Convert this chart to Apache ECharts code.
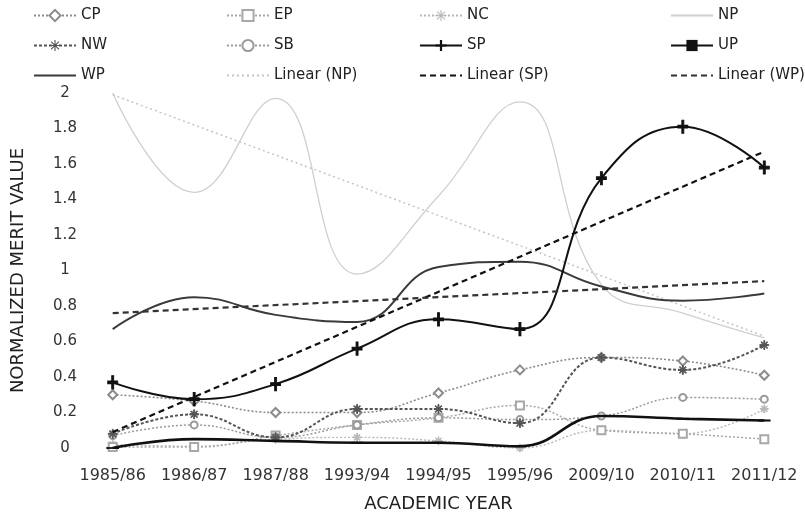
<!DOCTYPE html>
<html>
<head>
<meta charset="utf-8">
<script src="https://cdn.jsdelivr.net/npm/echarts@6/dist/echarts.min.js"></script>
<style>html,body{margin:0;padding:0;background:#fff;}#c{width:805px;height:518px;}</style>
</head>
<body>
<div id="c"></div>
<script>
var categories = ['1985/86','1986/87','1987/88','1993/94','1994/95','1995/96','2009/10','2010/11','2011/12'];
var yTicks = [0, 0.2, 0.4, 0.6, 0.8, 1, 1.2, 1.4, 1.6, 1.8, 2];
var CP = [0.30, 0.265, 0.20, 0.20, 0.31, 0.44, 0.51, 0.49, 0.41];
var EP = [0.005, 0.005, 0.07, 0.13, 0.17, 0.24, 0.10, 0.08, 0.05];
var NC = [0.02, 0.01, 0.05, 0.06, 0.04, 0.0, 0.10, 0.08, 0.22];
var NP = [2.0, 1.44, 1.97, 0.98, 1.42, 1.95, 0.92, 0.76, 0.62];
var NW = [0.08, 0.19, 0.06, 0.22, 0.22, 0.14, 0.51, 0.44, 0.58];
var SB = [0.07, 0.13, 0.06, 0.13, 0.17, 0.16, 0.18, 0.285, 0.275];
var SP = [0.37, 0.275, 0.36, 0.56, 0.725, 0.67, 1.52, 1.81, 1.58];
var UP = [0.0, 0.05, 0.04, 0.03, 0.03, 0.01, 0.18, 0.165, 0.155];
var WP = [0.67, 0.85, 0.75, 0.71, 1.02, 1.05, 0.91, 0.83, 0.87];
// trend lines: value at first and last academic year
var linearNP = [1.99, 0.63];
var linearSP = [0.09, 1.67];
var linearWP = [0.76, 0.94];

var FONT = 'DejaVu Sans';
var PLUS = 'path://M4,0h2v4h4v2h-4v4h-2v-4h-4v-2h4z';
var STAR = 'path://M4.5,0h1v10h-1z M0,4.5h10v1h-10z M1.2,1.9l0.7,-0.7l7,7l-0.7,0.7z M8.1,1.2l0.7,0.7l-7,7l-0.7,-0.7z';
var DASH = 'path://M0,0h10v3h-10z';
var noMarker = {};

function line(name, data, color, width, type, symbol, size, z) {
  if (!symbol) noMarker[name] = true;
  return {
    name: name, type: 'line', data: data, smooth: 0.45,
    symbol: symbol || 'none', symbolSize: size || 8, showSymbol: !!symbol,
    symbolKeepAspect: true,
    lineStyle: {color: color, width: width, type: type || 'solid'},
    itemStyle: {color: color, borderColor: color},
    z: z || 2, silent: true
  };
}
function trend(name, ends, color, width, type, z) {
  noMarker[name] = true;
  return {
    name: name, type: 'line',
    data: [[categories[0], ends[0]], [categories[categories.length - 1], ends[1]]],
    symbol: 'none', showSymbol: false,
    lineStyle: {color: color, width: width, type: type},
    itemStyle: {color: color},
    z: z || 3, silent: true
  };
}

var series = [
  line('NP', NP, '#cfcfcf', 1.3, 'solid', null, 0, 1),
  trend('Linear (NP)', linearNP, '#c4c4c4', 1.5, [2, 3], 1),
  line('NC', NC, '#b8b8b8', 1.4, [2, 2], STAR, 8, 2),
  line('EP', EP, '#a8a8a8', 1.5, [2, 2], 'emptyRect', 8, 2),
  line('SB', SB, '#9a9a9a', 1.5, [2, 2], 'emptyCircle', 7, 2),
  line('CP', CP, '#8c8c8c', 1.6, [2, 2], 'emptyDiamond', 9, 2),
  line('NW', NW, '#555555', 2, [3, 2], STAR, 9, 3),
  line('UP', UP, '#111111', 2.6, 'solid', DASH, [11, 4], 4),
  line('WP', WP, '#3a3a3a', 2, 'solid', null, 0, 4),
  line('SP', SP, '#111111', 2, 'solid', PLUS, [10, 13], 5),
  trend('Linear (SP)', linearSP, '#111111', 2.2, [6, 4], 5),
  trend('Linear (WP)', linearWP, '#333333', 2.2, [6, 4], 5)
];

function legendCol(left, names) {
  return {
    orient: 'vertical', left: left, top: 8, itemGap: 15, itemWidth: 42, itemHeight: 14,
    padding: 0, selectedMode: false,
    data: names.map(function (n) {
      return noMarker[n] ? {name: n, itemStyle: {opacity: 0}} : {name: n};
    }),
    textStyle: {fontFamily: FONT, fontSize: 15, color: '#222'}
  };
}

var chart = echarts.init(document.getElementById('c'), null, {renderer: 'canvas'});
chart.setOption({
  animation: false,
  backgroundColor: '#fff',
  legend: [
    legendCol(33, ['CP', 'NW', 'WP']),
    legendCol(226, ['EP', 'SB', 'Linear (NP)']),
    legendCol(419, ['NC', 'SP', 'Linear (SP)']),
    legendCol(670, ['NP', 'UP', 'Linear (WP)'])
  ],
  grid: {left: 72, top: 93, width: 738, height: 356, containLabel: false},
  xAxis: {
    type: 'category', data: categories, boundaryGap: true,
    axisLine: {show: false}, axisTick: {show: false}, splitLine: {show: false},
    axisLabel: {fontFamily: FONT, fontSize: 16, color: '#333', margin: 20, interval: 0},
    name: 'ACADEMIC YEAR', nameLocation: 'middle', nameGap: 47,
    nameTextStyle: {fontFamily: FONT, fontSize: 18, color: '#222'}
  },
  yAxis: {
    type: 'value', min: yTicks[0], max: yTicks[yTicks.length - 1], interval: 0.2,
    axisLine: {show: false}, axisTick: {show: false}, splitLine: {show: false},
    axisLabel: {fontFamily: FONT, fontSize: 15, color: '#333', align: 'center', margin: 7,
      formatter: function (v) { return String(+v.toFixed(1)); }},
    name: 'NORMALIZED MERIT VALUE', nameLocation: 'middle', nameGap: 45, nameRotate: 90,
    nameTextStyle: {fontFamily: FONT, fontSize: 18, color: '#222'}
  },
  series: series
});
</script>
</body>
</html>
